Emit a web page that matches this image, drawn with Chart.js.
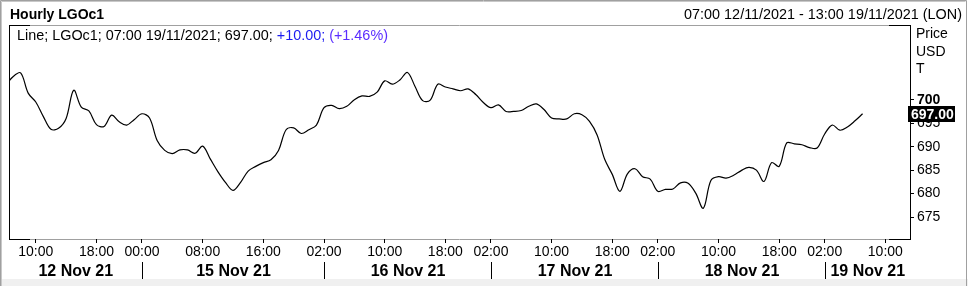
<!DOCTYPE html>
<html><head><meta charset="utf-8">
<script src="https://cdn.jsdelivr.net/npm/chart.js@4/dist/chart.umd.min.js"></script>
<style>html,body{margin:0;padding:0;background:#fff;overflow:hidden}#wrap{position:relative;width:968px;height:286px}</style>
</head><body><div id="wrap"><canvas id="c" width="968" height="286"></canvas></div>
<script>
// Hourly closes, first value = Fri 12 Nov 06:00 (hour index -1), last = Fri 19 Nov 07:00 (hour index 112)
const closes = [
  703.0, 704.9, 705.7, 701.4, 699.5, 696.4, 693.7, 693.9, 696.0, 702.0,
  698.4, 697.6, 694.7, 694.3, 696.7, 695.3, 694.6, 695.8, 697.0, 696.1,
  691.3, 689.2, 688.5, 689.3, 689.3, 688.6, 690.1, 687.4, 684.7, 682.4,
  680.7, 682.4, 684.8, 685.8, 686.6, 687.2, 689.2, 693.6, 694.0, 692.8,
  693.6, 694.6, 698.3, 698.8, 698.1, 698.6, 700.0, 700.8, 700.7, 701.6,
  704.0, 703.3, 704.2, 705.8, 702.8, 699.8, 699.9, 703.3, 702.7, 702.3,
  701.9, 702.3, 701.1, 699.4, 698.3, 698.9, 697.5, 697.5, 697.7, 698.6,
  699.1, 697.9, 696.1, 695.9, 695.9, 697.0, 696.8, 695.4, 692.5, 687.3,
  684.1, 680.5, 684.2, 685.3, 683.6, 683.1, 680.5, 680.9, 681.0, 682.3,
  682.2, 680.1, 676.9, 682.8, 683.6, 683.3, 683.9, 684.9, 685.6, 685.0,
  682.6, 686.6, 685.8, 690.8, 690.6, 690.4, 689.8, 689.7, 692.7, 694.6,
  693.5, 694.2, 695.5, 697.0
];
const firstHourIndex = -1;
const hourMin = -0.53, hourMax = 118.25;   // 07:00 12/11 .. 13:00 19/11 window
const tickHours  = [3, 11, 17, 25, 33, 41, 49, 57, 63, 71, 79, 85, 93, 101, 107, 115];
const tickLabels = ['10:00','18:00','00:00','08:00','16:00','02:00','10:00','18:00','02:00','10:00','18:00','02:00','10:00','18:00','02:00','10:00'];
const dayLabels  = ['12 Nov 21','15 Nov 21','16 Nov 21','17 Nov 21','18 Nov 21','19 Nov 21'];
const dayStartHours = [17, 41, 63, 85, 107];
const priceTicks = [675, 680, 685, 690, 695, 700];
const priceMin = 670.34, priceMax = 715.9;
const netChange = 10.00, pctChange = 1.46;
const chartTitle = 'Hourly LGOc1';
const rangeText = '07:00 12/11/2021 - 13:00 19/11/2021 (LON)';
const unitLines = ['Price', 'USD', 'T'];

const FONT = '"Liberation Sans", Arial, sans-serif';
Chart.defaults.font.family = FONT;
const lastValue = closes[closes.length - 1];
const points = closes.map((v, i) => ({x: i + firstHourIndex, y: v}));

const decor = {
  id: 'decor',
  beforeDraw(chart) {
    const ctx = chart.ctx, a = chart.chartArea;
    ctx.save();
    ctx.fillStyle = '#fff'; ctx.fillRect(0, 0, 968, 286);
    ctx.fillStyle = '#f0f0f0'; ctx.fillRect(0, 279, 968, 7);
    ctx.strokeStyle = '#a0a0a0'; ctx.lineWidth = 1;
    ctx.beginPath(); ctx.moveTo(0.5, 286); ctx.lineTo(0.5, 0.5); ctx.lineTo(966.5, 0.5); ctx.lineTo(966.5, 286); ctx.stroke();
    ctx.strokeStyle = '#c8c8c8';
    ctx.beginPath(); ctx.moveTo(1.5, 286); ctx.lineTo(1.5, 1.5); ctx.lineTo(965.5, 1.5); ctx.stroke();
    // header
    ctx.fillStyle = '#000';
    ctx.font = 'bold 14px ' + FONT; ctx.textBaseline = 'alphabetic'; ctx.textAlign = 'left';
    ctx.fillText(chartTitle, 10, 19);
    ctx.font = '14.4px ' + FONT; ctx.textAlign = 'right';
    ctx.fillText(rangeText, 962, 19);
    // frame (grey)
    ctx.strokeStyle = '#a0a0a0';
    ctx.beginPath();
    ctx.moveTo(a.left, a.top + 0.5); ctx.lineTo(a.right, a.top + 0.5);
    ctx.moveTo(a.left, a.bottom + 0.5); ctx.lineTo(a.right, a.bottom + 0.5);
    ctx.stroke();
    ctx.restore();
  },
  afterDraw(chart) {
    const ctx = chart.ctx, a = chart.chartArea, xs = chart.scales.x, ys = chart.scales.y;
    ctx.save();
    // black frame parts
    ctx.strokeStyle = '#000'; ctx.lineWidth = 1;
    ctx.beginPath();
    ctx.moveTo(a.left + 0.5, a.top); ctx.lineTo(a.left + 0.5, a.bottom + 1);
    ctx.moveTo(a.left, a.top + 0.5); ctx.lineTo(a.left + 21, a.top + 0.5);
    ctx.moveTo(a.right - 21, a.top + 0.5); ctx.lineTo(a.right + 1, a.top + 0.5);
    ctx.moveTo(a.left, a.bottom + 0.5); ctx.lineTo(a.left + 21, a.bottom + 0.5);
    ctx.moveTo(a.right - 21, a.bottom + 0.5); ctx.lineTo(a.right + 1, a.bottom + 0.5);
    ctx.stroke();
    // legend line
    ctx.font = '14.4px ' + FONT; ctx.textAlign = 'left'; ctx.textBaseline = 'alphabetic';
    let x = 17;
    const part1 = 'Line; LGOc1; 07:00 19/11/2021; ' + lastValue.toFixed(2) + '; ';
    ctx.fillStyle = '#000'; ctx.fillText(part1, x, 40); x += ctx.measureText(part1).width;
    const part2 = '+' + netChange.toFixed(2) + '; ';
    ctx.fillStyle = '#1c1cf0'; ctx.fillText(part2, x, 40); x += ctx.measureText(part2).width;
    const part3 = '(+' + pctChange.toFixed(2) + '%)';
    ctx.fillStyle = '#5a2dff'; ctx.fillText(part3, x, 40);
    // unit lines
    ctx.fillStyle = '#000'; ctx.font = '14px ' + FONT;
    unitLines.forEach((t, i) => ctx.fillText(t, a.right + 6, 38 + i * 17.7));
    // day separators and labels
    const bounds = [a.left].concat(dayStartHours.map(h => Math.round(xs.getPixelForValue(h)) + 0.5), [a.right]);
    ctx.beginPath();
    dayStartHours.forEach((h, i) => { const px = bounds[i + 1]; ctx.moveTo(px, 262); ctx.lineTo(px, 279); });
    ctx.stroke();
    ctx.font = 'bold 16px ' + FONT; ctx.textAlign = 'center';
    dayLabels.forEach((t, i) => ctx.fillText(t, (bounds[i] + bounds[i + 1]) / 2, 275.5));
    // last price box
    const py = ys.getPixelForValue(lastValue);
    ctx.fillStyle = '#000'; ctx.fillRect(a.right - 2, Math.round(py) - 8, 47, 16);
    ctx.fillStyle = '#fff'; ctx.font = 'bold 14px ' + FONT; ctx.textAlign = 'left'; ctx.textBaseline = 'alphabetic';
    ctx.fillText(lastValue.toFixed(2), a.right + 1, Math.round(py) + 5);
    ctx.restore();
  }
};

new Chart(document.getElementById('c'), {
  type: 'line',
  data: { datasets: [{ data: points, borderColor: '#000', borderWidth: 1.2, pointRadius: 0, tension: 0.35, fill: false, clip: 0 }] },
  options: {
    responsive: false, animation: false, devicePixelRatio: 1,
    layout: { padding: { top: 25, left: 9, right: 0, bottom: 0 } },
    plugins: { legend: { display: false }, tooltip: { enabled: false }, title: { display: false } },
    scales: {
      x: {
        type: 'linear', min: hourMin, max: hourMax,
        afterBuildTicks: s => { s.ticks = tickHours.map(v => ({ value: v })); },
        afterFit: s => { s.height = 47; },
        ticks: { autoSkip: false, maxRotation: 0, color: '#000', font: { size: 14 }, padding: 1,
                 callback: (v, i) => tickLabels[i] },
        grid: { drawOnChartArea: false, drawTicks: true, tickLength: 4, color: '#000' },
        border: { display: false }
      },
      y: {
        position: 'right', min: priceMin, max: priceMax,
        afterBuildTicks: s => { s.ticks = priceTicks.map(v => ({ value: v })); },
        afterFit: s => { s.width = 58; },
        ticks: { color: '#000', padding: 3,
                 font: c => ({ size: 14, weight: (c.tick && c.tick.value === 700) ? 'bold' : 'normal' }),
                 callback: v => String(v) },
        grid: { drawOnChartArea: false, drawTicks: true, tickLength: 4, color: '#000' },
        border: { display: true, color: '#000' }
      }
    }
  },
  plugins: [decor]
});
</script>
</body></html>
